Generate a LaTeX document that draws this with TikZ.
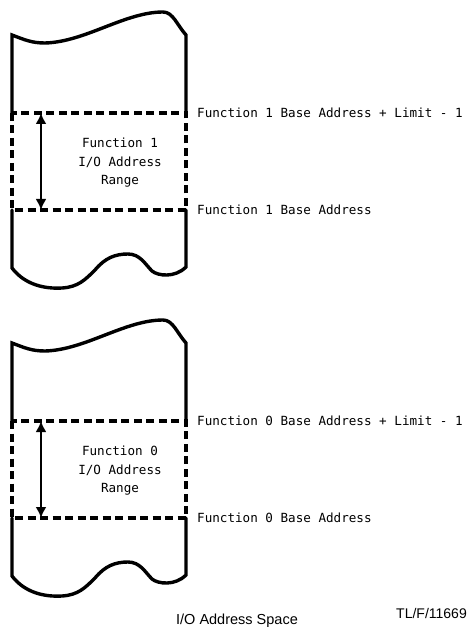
\documentclass[tikz,border=0pt]{standalone}
\usepackage{fontspec}
\usepackage{tikz}
\usetikzlibrary{arrows.meta}
\usetikzlibrary{positioning}
\newfontfamily\lblfont{DejaVu Sans Mono}
\newfontfamily\capfont{Liberation Sans}
\tikzset{>=latex}
\tikzstyle{edge} = [line width = 3.4pt, line cap = round]
\tikzstyle{dashedge} = [line width = 3.4pt, dash pattern = on 8pt off 4.5pt]
\tikzstyle{lbl} = [draw = none, inner sep = 0, font = \lblfont\fontsize{12.6}{18.5}\selectfont]
\tikzstyle{span} = [{Latex[length=11pt,width=11pt]}-{Latex[length=11pt,width=11pt]}, line width = 2.2pt]

\begin{document}
\begin{tikzpicture}[x = 1pt, y = -1pt]
\useasboundingbox (0,0) rectangle (469,628);
\foreach \off/\n in {0/1, 308/0} {
\begin{scope}[yshift = -\off pt]
% memory strip
\draw [edge] (12,113) -- (12,35) .. controls (25,40) and (32,43) .. (45,43) .. controls (85,42) and (125,12) .. (163,12) .. controls (173,12) and (177,25) .. (186,35) -- (186,113);
\draw [edge] (12,210) -- (12,268) .. controls (25,285) and (45,289) .. (62,288) .. controls (78,287) and (85,280) .. (95,270) .. controls (105,258) and (115,254) .. (128,254) .. controls (140,254) and (145,264) .. (152,271) .. controls (158,276) and (175,278) .. (186,267) -- (186,210);
\draw [dashedge] (12,113) rectangle (186,210);
% range
\coordinate (hi\n) at (41,113);
\coordinate (lo\n) at (41,210);
\draw [span] (hi\n) -- (lo\n);
\node [lbl, align = center] (R\n) at (120,163) {Function \n\\I/O Address\\Range};
\node [lbl, anchor = west] (top\n) at (197,113) {Function \n{} Base Address + Limit - 1};
\node [lbl, anchor = west] (base\n) at (197,210) {Function \n{} Base Address};
\end{scope}
}
\node [draw = none, inner sep = 0, font = \capfont\fontsize{14.5}{16}\selectfont] (cap) at (237,621) {I/O Address Space};
\node [draw = none, inner sep = 0, anchor = east, font = \capfont\fontsize{14}{16}\selectfont] (fig) at (467,613) {TL/F/11669};
\end{tikzpicture}
\end{document}
